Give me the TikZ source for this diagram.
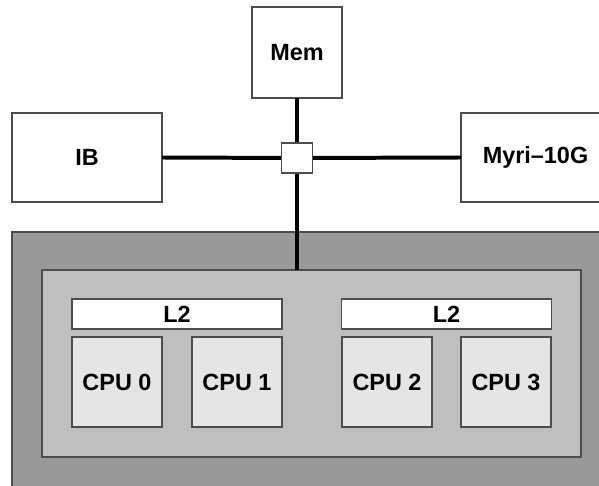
\documentclass[tikz,border=0pt]{standalone}
\usepackage{fontspec}
\setmainfont{Liberation Sans}

\definecolor{nodegray}{gray}{0.6}
\definecolor{socketgray}{gray}{0.75}
\definecolor{coregray}{gray}{0.9}
\definecolor{edgegray}{gray}{0.3}
\newcommand{\pxl}{0.03cm}

\begin{document}
\begin{tikzpicture}[x=0.03cm, y=-0.03cm,
  font=\bfseries\fontsize{20}{24}\selectfont,
  box/.style={draw=edgegray, line width=0.9pt, fill=white,
    inner sep=0pt, outer sep=0pt},
  core/.style={box, fill=coregray,
    minimum width={90*\pxl}, minimum height={90*\pxl}},
  cache/.style={box, minimum width={210*\pxl}, minimum height={30*\pxl}},
  bus/.style={line width=3.4pt}]

  \clip (0, 0) rectangle (599, 486);

  %% ================= NODE ENCLOSURE =================

  % Outer enclosure (runs off the page at right and bottom)
  \node[box, fill=nodegray, minimum width={600*\pxl}, minimum height={270*\pxl}]
    (enclosure) at (312, 367) {};

  % Socket
  \node[box, fill=socketgray, minimum width={539*\pxl}, minimum height={187*\pxl}]
    (socket) at (311.5, 363.5) {};

  % L2 caches
  \node[cache] (l2a) at (177, 314) {L2};
  \node[cache] (l2b) at (446.5, 314) {L2};

  % Cores
  \node[core] (cpu0) at (117, 382) {CPU 0};
  \node[core] (cpu1) at (237, 382) {CPU 1};
  \node[core] (cpu2) at (387, 382) {CPU 2};
  \node[core] (cpu3) at (506, 382) {CPU 3};

  %% ================= INTERCONNECT =================

  \node[box, minimum width={90*\pxl}, minimum height={91*\pxl}]
    (mem) at (297, 52.5) {Mem};
  \node[box, minimum width={150*\pxl}, minimum height={89*\pxl}]
    (ib) at (87, 157.5) {IB};
  \node[box, minimum width={150*\pxl}, minimum height={89*\pxl}]
    (myri) at (536, 157.5) {};
  \node at (535.5, 157.5) {Myri--10G};

  % Switch
  \coordinate (hub) at (297, 158);
  \draw[bus] (mem.south) -- (hub);
  \draw[bus] (ib.east) -- (hub);
  \draw[bus] (hub) -- (myri.west);
  \draw[bus] (hub) -- (hub |- socket.north);
  \node[box, minimum width={31*\pxl}, minimum height={30*\pxl}]
    (switch) at (hub) {};

\end{tikzpicture}
\end{document}
